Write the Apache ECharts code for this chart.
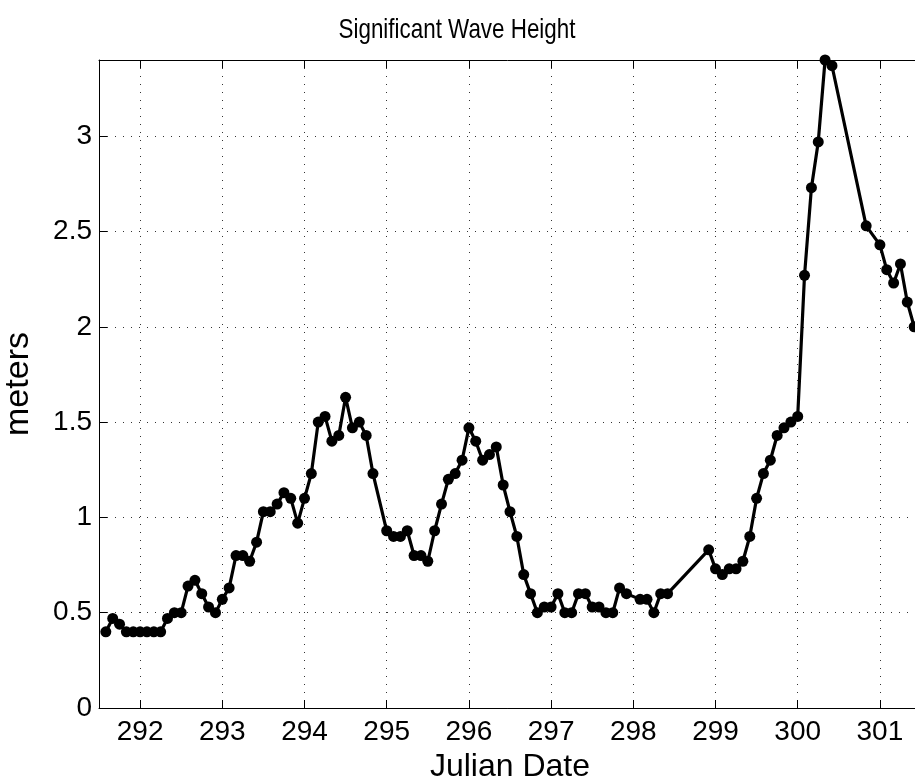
<!DOCTYPE html>
<html>
<head>
<meta charset="utf-8">
<title>Significant Wave Height</title>
<script src="https://cdn.jsdelivr.net/npm/echarts@6/dist/echarts.min.js"></script>
<style>
  html, body { margin: 0; padding: 0; background: #fff; }
  #chart { width: 915px; height: 783px; }
</style>
</head>
<body>
<div id="chart"></div>
<script>
// Julian day of each 2-hourly observation
const julianDay = [
  291.583, 291.667, 291.750, 291.833, 291.917, 292.000, 292.083, 292.167, 292.250, 292.333,
  292.417, 292.500, 292.583, 292.667, 292.750, 292.833, 292.917, 293.000, 293.083, 293.167,
  293.250, 293.333, 293.417, 293.500, 293.583, 293.667, 293.750, 293.833, 293.917, 294.000,
  294.083, 294.167, 294.250, 294.333, 294.417, 294.500, 294.583, 294.667, 294.750, 294.833,
  295.000, 295.083, 295.167, 295.250, 295.333, 295.417, 295.500, 295.583, 295.667, 295.750,
  295.833, 295.917, 296.000, 296.083, 296.167, 296.250, 296.333, 296.417, 296.500, 296.583,
  296.667, 296.750, 296.833, 296.917, 297.000, 297.083, 297.167, 297.250, 297.333, 297.417,
  297.500, 297.583, 297.667, 297.750, 297.833, 297.917, 298.083, 298.167, 298.250, 298.333,
  298.417, 298.917, 299.000, 299.083, 299.167, 299.250, 299.333, 299.417, 299.500, 299.583,
  299.667, 299.750, 299.833, 299.917, 300.000, 300.083, 300.167, 300.250, 300.333, 300.417,
  300.833, 301.000, 301.083, 301.167, 301.250, 301.333, 301.417
];

// Significant wave height (m) at each observation
const waveHeight = [
  0.40, 0.47, 0.44, 0.40, 0.40, 0.40, 0.40, 0.40, 0.40, 0.47,
  0.50, 0.50, 0.64, 0.67, 0.60, 0.53, 0.50, 0.57, 0.63, 0.80,
  0.80, 0.77, 0.87, 1.03, 1.03, 1.07, 1.13, 1.10, 0.97, 1.10,
  1.23, 1.50, 1.53, 1.40, 1.43, 1.63, 1.47, 1.50, 1.43, 1.23,
  0.93, 0.90, 0.90, 0.93, 0.80, 0.80, 0.77, 0.93, 1.07, 1.20,
  1.23, 1.30, 1.47, 1.40, 1.30, 1.33, 1.37, 1.17, 1.03, 0.90,
  0.70, 0.60, 0.50, 0.53, 0.53, 0.60, 0.50, 0.50, 0.60, 0.60,
  0.53, 0.53, 0.50, 0.50, 0.63, 0.60, 0.57, 0.57, 0.50, 0.60,
  0.60, 0.83, 0.73, 0.70, 0.73, 0.73, 0.77, 0.90, 1.10, 1.23,
  1.30, 1.43, 1.47, 1.50, 1.53, 2.27, 2.73, 2.97, 3.40, 3.37,
  2.53, 2.43, 2.30, 2.23, 2.33, 2.13, 2.00
];

const dayTicks = [292, 293, 294, 295, 296, 297, 298, 299, 300, 301];
const heightTicks = [0, 0.5, 1, 1.5, 2, 2.5, 3];

const FONT = '"Liberation Sans", Arial, Helvetica, sans-serif';
const gridDots = { show: true, lineStyle: { color: '#333', width: 1, type: [1, 7] } };

const chart = echarts.init(document.getElementById('chart'), null, { renderer: 'canvas' });

chart.setOption({
  animation: false,
  backgroundColor: '#fff',
  // Title drawn as a condensed text element
  graphic: [{
    type: 'text',
    x: 457,
    y: 30,
    scaleX: 0.8,
    style: {
      text: 'Significant Wave Height',
      fontFamily: FONT,
      fontSize: 28,
      fill: '#000',
      align: 'center',
      verticalAlign: 'middle'
    }
  }],
  grid: {
    left: 99, top: 60, right: -6, bottom: 75,
    containLabel: false,
    outerBoundsMode: 'none'
  },
  xAxis: [
    {
      type: 'value',
      min: 291.5,
      max: 301.5,
      position: 'bottom',
      name: 'Julian Date',
      nameLocation: 'middle',
      nameGap: 43,
      nameTextStyle: { fontFamily: FONT, fontSize: 32, color: '#000' },
      axisLine: { show: true, onZero: false, lineStyle: { color: '#000', width: 1 } },
      axisTick: { show: true, inside: true, length: 8, customValues: dayTicks, lineStyle: { color: '#000' } },
      axisLabel: { show: true, customValues: dayTicks, margin: 10, fontFamily: FONT, fontSize: 28, color: '#000' },
      splitLine: gridDots
    },
    {
      type: 'value',
      min: 291.5,
      max: 301.5,
      position: 'top',
      axisLine: { show: true, onZero: false, lineStyle: { color: '#000', width: 1 } },
      axisTick: { show: true, inside: true, length: 8, customValues: dayTicks, lineStyle: { color: '#000' } },
      axisLabel: { show: false },
      splitLine: { show: false }
    }
  ],
  yAxis: {
    type: 'value',
    min: 0,
    max: 3.4,
    name: 'meters',
    nameLocation: 'middle',
    nameRotate: 90,
    nameGap: 63,
    nameTextStyle: { fontFamily: FONT, fontSize: 34, color: '#000' },
    axisLine: { show: true, onZero: false, lineStyle: { color: '#000', width: 1 } },
    axisTick: { show: true, inside: true, length: 8, customValues: heightTicks, lineStyle: { color: '#000' } },
    axisLabel: { show: true, customValues: heightTicks, margin: 7, fontFamily: FONT, fontSize: 28, color: '#000' },
    splitLine: gridDots
  },
  series: [{
    type: 'line',
    xAxisIndex: 0,
    data: julianDay.map((d, i) => [d, waveHeight[i]]),
    symbol: 'circle',
    symbolSize: 11,
    showAllSymbol: true,
    clip: true,
    lineStyle: { color: '#000', width: 3.2 },
    itemStyle: { color: '#000' },
    emphasis: { disabled: true }
  }]
});
</script>
</body>
</html>
